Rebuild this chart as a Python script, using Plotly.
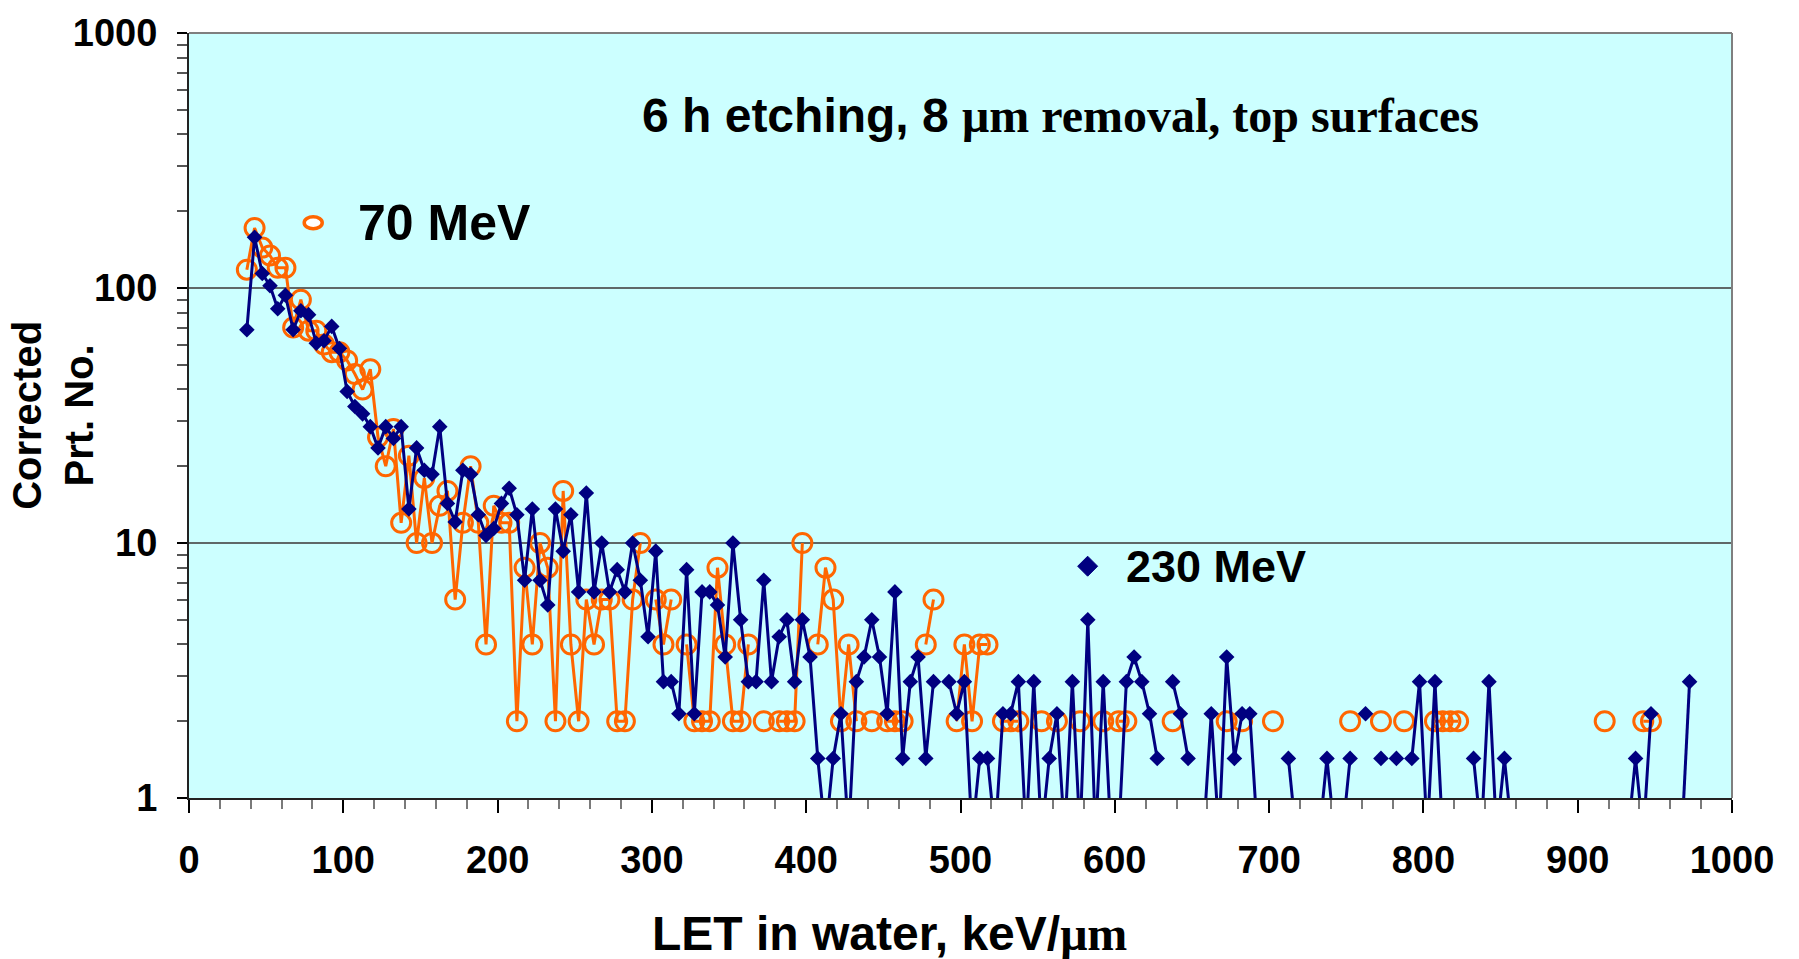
import plotly.graph_objects as go

# ---------------- data ----------------
# 230 MeV series (navy diamonds); None = empty bin (line break)
blue_let = [37.5, 42.5, 47.5, 52.5, 57.5, 62.5, 67.5, 72.5, 77.5, 82.5,
            87.5, 92.5, 97.5, 102.5, 107.5, 112.5, 117.5, 122.5, 127.5, 132.5,
            137.5, 142.5, 147.5, 152.5, 157.5, 162.5, 167.5, 172.5, 177.5, 182.5,
            187.5, 192.5, 197.5, 202.5, 207.5, 212.5, 217.5, 222.5, 227.5, 232.5,
            237.5, 242.5, 247.5, 252.5, 257.5, 262.5, 267.5, 272.5, 277.5, 282.5,
            287.5, 292.5, 297.5, 302.5, 307.5, 312.5, 317.5, 322.5, 327.5, 332.5,
            337.5, 342.5, 347.5, 352.5, 357.5, 362.5, 367.5, 372.5, 377.5, 382.5,
            387.5, 392.5, 397.5, 402.5, 407.5, 412.5, 417.5, 422.5, 427.5, 432.5,
            437.5, 442.5, 447.5, 452.5, 457.5, 462.5, 467.5, 472.5, 477.5, 482.5,
            487.5, 492.5, 497.5, 502.5, 507.5, 512.5, 517.5, 522.5, 527.5, 532.5,
            537.5, 542.5, 547.5, 552.5, 557.5, 562.5, 567.5, 572.5, 577.5, 582.5,
            587.5, 592.5, 597.5, 602.5, 607.5, 612.5, 617.5, 622.5, 627.5, 632.5,
            637.5, 642.5, 647.5, 652.5, 657.5, 662.5, 667.5, 672.5, 677.5, 682.5,
            687.5, 692.5, 697.5, 712.5, 717.5, 722.5, 732.5, 737.5, 742.5, 747.5,
            752.5, 757.5, 762.5, 767.5, 772.5, 777.5, 782.5, 787.5, 792.5, 797.5,
            802.5, 807.5, 812.5, 817.5, 832.5, 837.5, 842.5, 847.5, 852.5, 857.5,
            862.5, 932.5, 937.5, 942.5, 947.5, 952.5, 967.5, 972.5]
blue_n = [68.6, 158, 114, 102, 82.9, 93.6, 68.6, 81.4, 78.6, 60.7,
          62.1, 70.7, 57.9, 39.3, 34.3, 32.1, 28.6, 23.6, 28.6, 25.7,
          28.6, 13.6, 23.6, 19.3, 18.6, 28.6, 14.3, 12.1, 19.3, 18.6,
          12.9, 10.7, 11.4, 14.3, 16.4, 12.9, 7.14, 13.6, 7.14, 5.71,
          13.6, 9.29, 12.9, 6.43, 15.7, 6.43, 10.0, 6.43, 7.86, 6.43,
          10.0, 7.14, 4.29, 9.29, 2.86, 2.86, 2.14, 7.86, 2.14, 6.43,
          6.43, 5.71, 3.57, 10.0, 5.0, 2.86, 2.86, 7.14, 2.86, 4.29,
          5.0, 2.86, 5.0, 3.57, 1.43, 0.714, 1.43, 2.14, 0.714, 2.86,
          3.57, 5.0, 3.57, 2.14, 6.43, 1.43, 2.86, 3.57, 1.43, 2.86,
          None, 2.86, 2.14, 2.86, 0.714, 1.43, 1.43, 0.714, 2.14, 2.14,
          2.86, 0.714, 2.86, 0.714, 1.43, 2.14, 0.714, 2.86, 0.714, 5.0,
          0.714, 2.86, 0.714, 0.714, 2.86, 3.57, 2.86, 2.14, 1.43, None,
          2.86, 2.14, 1.43, None, 0.714, 2.14, 0.714, 3.57, 1.43, 2.14,
          2.14, 0.714, None, 1.43, 0.714, None, 0.714, 1.43, 0.714, 0.714,
          1.43, None, 2.14, None, 1.43, None, 1.43, None, 1.43, 2.86,
          0.714, 2.86, 0.714, None, 1.43, 0.714, 2.86, 0.714, 1.43, 0.714,
          None, 0.714, 1.43, 0.714, 2.14, None, 0.714, 2.86]

# 70 MeV series (orange open circles); None = empty bin (line break)
orange_let = [37.5, 42.5, 47.5, 52.5, 57.5, 62.5, 67.5, 72.5, 77.5, 82.5,
              87.5, 92.5, 97.5, 102.5, 107.5, 112.5, 117.5, 122.5, 127.5, 132.5,
              137.5, 142.5, 147.5, 152.5, 157.5, 162.5, 167.5, 172.5, 177.5, 182.5,
              187.5, 192.5, 197.5, 202.5, 207.5, 212.5, 217.5, 222.5, 227.5, 232.5,
              237.5, 242.5, 247.5, 252.5, 257.5, 262.5, 267.5, 272.5, 277.5, 282.5,
              287.5, 292.5, 297.5, 302.5, 307.5, 312.5, 317.5, 322.5, 327.5, 332.5,
              337.5, 342.5, 347.5, 352.5, 357.5, 362.5, 367.5, 372.5, 377.5, 382.5,
              387.5, 392.5, 397.5, 402.5, 407.5, 412.5, 417.5, 422.5, 427.5, 432.5,
              437.5, 442.5, 447.5, 452.5, 457.5, 462.5, 467.5, 477.5, 482.5, 487.5,
              497.5, 502.5, 507.5, 512.5, 517.5, 522.5, 527.5, 532.5, 537.5, 542.5,
              552.5, 557.5, 562.5, 567.5, 577.5, 582.5, 592.5, 597.5, 602.5, 607.5,
              612.5, 637.5, 642.5, 672.5, 677.5, 682.5, 687.5, 702.5, 707.5, 752.5,
              757.5, 772.5, 777.5, 787.5, 792.5, 807.5, 812.5, 817.5, 822.5, 827.5,
              917.5, 922.5, 942.5, 947.5]
orange_n = [118, 172, 144, 134, 120, 120, 70, 90, 68, 68,
            60, 56, 56, 52, 46, 40, 48, 26, 20, 28,
            12, 22, 10, 18, 10, 14, 16, 6, 12, 20,
            12, 4, 14, 12, 12, 2, 8, 4, 10, 8,
            2, 16, 4, 2, 6, 4, 6, 6, 2, 2,
            6, 10, None, 6, 4, 6, None, 4, 2, 2,
            2, 8, 4, 2, 2, 4, None, 2, None, 2,
            2, 2, 10, None, 4, 8, 6, 2, 4, 2,
            None, 2, None, 2, 2, 2, None, 4, 6, None,
            2, 4, 2, 4, 4, None, 2, 2, 2, None,
            2, None, 2, None, 2, None, 2, None, 2, 2,
            None, 2, None, 2, None, 2, None, 2, None, 2,
            None, 2, None, 2, None, 2, 2, 2, 2, None,
            2, None, 2, 2]

x_ticks = [0, 100, 200, 300, 400, 500, 600, 700, 800, 900, 1000]
y_ticks = [1, 10, 100, 1000]

# ---------------- styling ----------------
ORANGE = "#FF6600"
NAVY = "#000080"
SANS = "Liberation Sans"

fig = go.Figure()

fig.add_trace(go.Scatter(
    x=orange_let, y=orange_n, mode="lines+markers", name="70 MeV",
    line=dict(color=ORANGE, width=3),
    marker=dict(symbol="circle-open", size=19, color=ORANGE, line=dict(width=3, color=ORANGE)),
    showlegend=False, connectgaps=False))

fig.add_trace(go.Scatter(
    x=blue_let, y=blue_n, mode="lines+markers", name="230 MeV",
    line=dict(color=NAVY, width=3),
    marker=dict(symbol="diamond", size=12, color=NAVY),
    showlegend=False, connectgaps=False))

tickfont = dict(family=SANS, size=38, color="black", weight="bold")

fig.update_xaxes(
    range=[0, 1000], tickmode="array", tickvals=x_ticks, ticktext=[str(v) for v in x_ticks],
    ticks="outside", ticklen=13, tickwidth=2, tickcolor="black",
    showline=True, linecolor="#222222", linewidth=2, showgrid=False, zeroline=False,
    tickfont=tickfont, ticklabelstandoff=14,
    minor=dict(dtick=20, tick0=0, ticks="outside", ticklen=9, tickwidth=2, tickcolor="#7a7a7a", showgrid=False))

fig.update_yaxes(
    type="log", range=[0, 3], tickmode="array", tickvals=y_ticks, ticktext=[str(v) for v in y_ticks],
    ticks="outside", ticklen=10, tickwidth=2, tickcolor="black",
    showline=True, linecolor="#222222", linewidth=2,
    showgrid=True, gridcolor="#5f6868", gridwidth=2, zeroline=False,
    tickfont=tickfont, ticklabelstandoff=12,
    minor=dict(dtick="D1", ticks="outside", ticklen=10, tickwidth=2, tickcolor="#555555", showgrid=False))

annotations = [
    dict(text="6 h etching, 8 <span style='font-family:Liberation Serif'>μm removal, top surfaces</span>",
         x=0.5651, y=0.892, xref="paper", yref="paper", showarrow=False,
         xanchor="center", yanchor="middle", font=dict(family=SANS, size=48, color="black", weight="bold")),
    dict(text="70 MeV", x=0.108, y=0.752, xref="paper", yref="paper", showarrow=False,
         xanchor="left", yanchor="middle", font=dict(family=SANS, size=50, color="black", weight="bold")),
    dict(text="230 MeV", x=0.606, y=0.303, xref="paper", yref="paper", showarrow=False,
         xanchor="left", yanchor="middle", font=dict(family=SANS, size=45, color="black", weight="bold")),
    dict(text="LET in water, keV/<span style='font-family:Liberation Serif'>μm</span>",
         x=0.4537, y=-0.1765, xref="paper", yref="paper", showarrow=False,
         xanchor="center", yanchor="middle", font=dict(family=SANS, size=48, color="black", weight="bold")),
    dict(text="Corrected<br>Prt. No.", x=-0.0883, y=0.5005, xref="paper", yref="paper", showarrow=False,
         xanchor="center", yanchor="middle", textangle=-90,
         font=dict(family=SANS, size=40, color="black", weight="bold")),
]

shapes = [
    # plot frame (top and right edges)
    dict(type="line", xref="paper", yref="paper", x0=0, x1=1, y0=1, y1=1, line=dict(color="#7f7f7f", width=2)),
    dict(type="line", xref="paper", yref="paper", x0=1, x1=1, y0=0, y1=1, line=dict(color="#7f7f7f", width=2)),
    # legend keys
    dict(type="circle", xref="paper", yref="paper", xsizemode="pixel", ysizemode="pixel",
         xanchor=0.0805, yanchor=0.752, x0=-9, x1=9, y0=-6, y1=6,
         line=dict(color=ORANGE, width=3.5), fillcolor="white"),
    dict(type="path", xref="paper", yref="paper", xsizemode="pixel", ysizemode="pixel",
         xanchor=0.5824, yanchor=0.303, path="M -10 0 L 0 10 L 10 0 L 0 -10 Z",
         line=dict(color=NAVY, width=1), fillcolor=NAVY),
]

fig.update_layout(
    width=1799, height=959,
    margin=dict(l=189, r=67, t=22, b=161),
    paper_bgcolor="white", plot_bgcolor="#CCFFFF",
    annotations=annotations, shapes=shapes, showlegend=False,
)

fig.write_html("out.html", config={"displayModeBar": False},
               post_script="document.body.style.margin='0';document.body.style.overflow='hidden';")
